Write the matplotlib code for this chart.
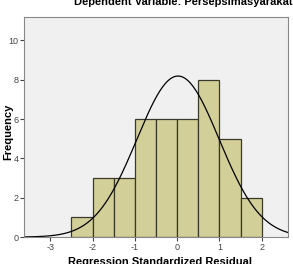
import numpy as np
import matplotlib.pyplot as plt

plt.rcParams['font.family'] = ['Liberation Sans', 'DejaVu Sans']
plt.rcParams['axes.unicode_minus'] = False

# histogram bins (Regression Standardized Residual) and counts
bin_edges = [-2.5, -2.0, -1.5, -1.0, -0.5, 0.0, 0.5, 1.0, 1.5, 2.0]
counts = [1, 3, 3, 6, 6, 6, 8, 5, 2]
n_total = 40
res_mean = 0.02
res_std = 0.974

fig = plt.figure(figsize=(2.93, 2.64), dpi=100)
ax = fig.add_axes([0.082, 0.102, 0.901, 0.834])
ax.set_facecolor('#f0f0f0')

lefts = bin_edges[:-1]
widths = np.diff(bin_edges)
ax.bar(lefts, counts, width=widths, align='edge', color='#d3cf98',
       edgecolor='#3a3a2a', linewidth=0.9)

# normal curve scaled to counts
xs = np.linspace(-3.62, 2.62, 300)
bw = 0.5
ys = n_total * bw / (res_std * np.sqrt(2 * np.pi)) * np.exp(-0.5 * ((xs - res_mean) / res_std) ** 2)
ax.plot(xs, ys, color='black', lw=0.9)

ax.set_xlim(-3.62, 2.62)
ax.set_ylim(0, 11.2)
ax.set_xticks([-3, -2, -1, 0, 1, 2])
ax.set_yticks([0, 2, 4, 6, 8, 10])
ax.tick_params(labelsize=6.5, colors='#444444', length=3, width=0.8, pad=1)
for s in ax.spines.values():
    s.set_color('#888888')
    s.set_linewidth(0.8)

fig.text(0.028, 0.5, 'Frequency', fontsize=8, fontweight='bold',
         rotation=90, ha='center', va='center')
fig.text(0.545, 0.008, 'Regression Standardized Residual', fontsize=8,
         fontweight='bold', ha='center', va='center')
fig.text(0.625, 0.992, 'Dependent Variable: Persepsimasyarakat', fontsize=8,
         fontweight='bold', ha='center', va='center')

fig.savefig('out.png', dpi=100)
